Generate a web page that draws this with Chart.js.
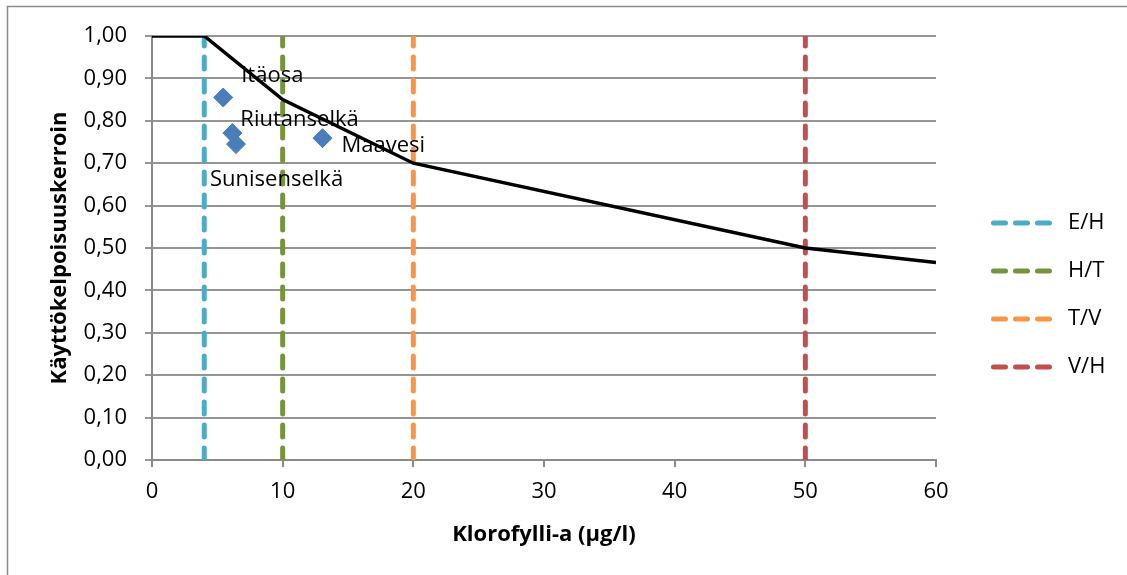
<!DOCTYPE html>
<html><head><meta charset="utf-8">
<script src="https://cdn.jsdelivr.net/npm/chart.js@4"></script>
<style>html,body{margin:0;padding:0;background:#fff}#wrap{width:1127px;height:575px;position:relative}canvas{display:block}</style>
</head><body><div id="wrap"><canvas id="c" width="1127" height="575"></canvas></div>
<script>
// ---- data ----
const siteNames = ['Itäosa', 'Riutanselkä', 'Sunisenselkä', 'Maavesi'];
const siteChl = [5.45, 6.15, 6.43, 13.05];
const siteCoef = [0.855, 0.771, 0.745, 0.759];
const curveChl = [0, 4, 10, 20, 50, 60];
const curveCoef = [1.00, 1.00, 0.85, 0.70, 0.50, 0.466];
const boundaryNames = ['E/H', 'H/T', 'T/V', 'V/H'];
const boundaryChl = [4, 10, 20, 50];
const xTickValues = [0, 10, 20, 30, 40, 50, 60];
const yTickValues = [0, 0.1, 0.2, 0.3, 0.4, 0.5, 0.6, 0.7, 0.8, 0.9, 1.0];

// ---- styles ----
const boundaryColors = ['#4BACC6', '#77933C', '#F79646', '#C0504D'];
const labelOffsets = [[18, -22], [8, -13], [-26, 36], [19, 8]];
const FONT = "'Open Sans', 'DejaVu Sans', sans-serif";

const datasets = [];
datasets.push({
  label: 'sites',
  data: siteChl.map((x, i) => ({x, y: siteCoef[i]})),
  pointStyle: 'rectRot', pointRadius: 9.5, pointBackgroundColor: '#4A7EBB',
  pointBorderColor: '#4A7EBB', pointBorderWidth: 1, showLine: false
});
datasets.push({
  label: 'curve',
  data: curveChl.map((x, i) => ({x, y: curveCoef[i]})),
  showLine: true, borderColor: '#000', borderWidth: 3.5, pointRadius: 0, tension: 0
});
boundaryChl.forEach((b, i) => {
  datasets.push({
    label: boundaryNames[i],
    data: [{x: b, y: 0}, {x: b, y: 1}],
    showLine: true, borderColor: boundaryColors[i], borderWidth: 5,
    borderDash: [12, 11], borderCapStyle: 'round', pointRadius: 0
  });
});

const frame = {
  id: 'frame',
  beforeDraw(chart) {
    const ctx = chart.ctx;
    ctx.save();
    ctx.fillStyle = '#fff';
    ctx.fillRect(0, 0, chart.width, chart.height);
    ctx.strokeStyle = '#8a8a8a';
    ctx.lineWidth = 1.5;
    ctx.strokeRect(7.5, 6.5, 3000, 3000);
    ctx.restore();
  }
};

const siteLabels = {
  id: 'siteLabels',
  afterDatasetsDraw(chart) {
    const ctx = chart.ctx;
    const meta = chart.getDatasetMeta(0);
    ctx.save();
    ctx.font = "22px " + FONT;
    ctx.fillStyle = '#000';
    ctx.textAlign = 'left';
    ctx.textBaseline = 'middle';
    meta.data.forEach((pt, i) => {
      ctx.fillText(siteNames[i], pt.x + labelOffsets[i][0], pt.y + labelOffsets[i][1]);
    });
    ctx.restore();
  }
};

const customLegend = {
  id: 'customLegend',
  afterDraw(chart) {
    const ctx = chart.ctx;
    ctx.save();
    boundaryNames.forEach((name, i) => {
      const y = 223 + i * 48;
      ctx.strokeStyle = boundaryColors[i];
      ctx.lineWidth = 5;
      ctx.lineCap = 'round';
      ctx.setLineDash([12, 10]);
      ctx.beginPath();
      ctx.moveTo(993.5, y);
      ctx.lineTo(1051, y);
      ctx.stroke();
      ctx.setLineDash([]);
      ctx.font = "22px " + FONT;
      ctx.fillStyle = '#000';
      ctx.textAlign = 'left';
      ctx.textBaseline = 'middle';
      ctx.fillText(name, 1068, y);
    });
    ctx.restore();
  }
};

new Chart(document.getElementById('c'), {
  type: 'scatter',
  data: {datasets},
  options: {
    responsive: false,
    animation: false,
    devicePixelRatio: 1,
    layout: {padding: {top: 36, right: 191, bottom: 0, left: 0}},
    plugins: {legend: {display: false}, tooltip: {enabled: false}},
    scales: {
      x: {
        type: 'linear', min: 0, max: 60,
        afterFit(s) { s.height = 115; },
        afterBuildTicks(s) { s.ticks = xTickValues.map(v => ({value: v})); },
        ticks: {font: {family: FONT, size: 22}, color: '#000', padding: 12,
                callback: v => String(v)},
        grid: {drawOnChartArea: false, drawTicks: true, tickLength: 7, color: '#8a8a8a', lineWidth: 2},
        border: {color: '#8a8a8a', width: 2},
        title: {display: true, text: 'Klorofylli-a (µg/l)', color: '#000',
                font: {family: FONT, size: 22, weight: 'bold'}, padding: {top: 0, bottom: 26.8}}
      },
      y: {
        type: 'linear', min: 0, max: 1,
        afterFit(s) { s.width = 152; },
        afterBuildTicks(s) { s.ticks = yTickValues.map(v => ({value: v})); },
        ticks: {font: {family: FONT, size: 22}, color: '#000', padding: 18,
                callback: v => v.toFixed(2).replace('.', ',')},
        grid: {drawTicks: true, tickLength: 7, color: '#959595', lineWidth: 2},
        border: {color: '#8a8a8a', width: 2},
        title: {display: true, text: 'Käyttökelpoisuuskerroin', color: '#000',
                font: {family: FONT, size: 22, weight: 'bold'}, padding: {top: 46.8, bottom: 0}}
      }
    }
  },
  plugins: [frame, siteLabels, customLegend]
});
</script>
</body></html>
